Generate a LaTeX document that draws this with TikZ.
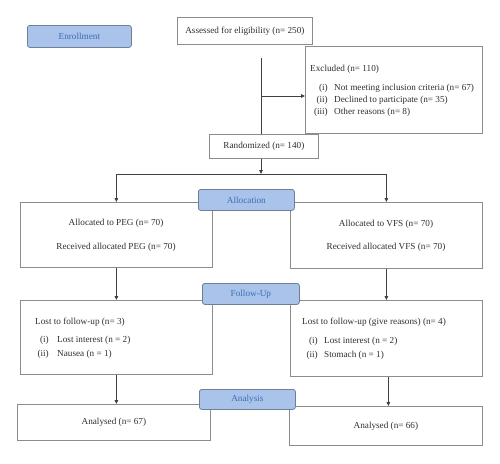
\documentclass[tikz,border=0pt]{standalone}
\usepackage{fontspec}
\setmainfont{Liberation Serif}
\usetikzlibrary{arrows.meta}
\definecolor{lblfill}{HTML}{A9C3EA}
\definecolor{lblline}{HTML}{6F7F95}
\definecolor{lbltext}{HTML}{3D6DB5}
\definecolor{boxline}{HTML}{8C8C8C}
\definecolor{conline}{HTML}{404040}
\definecolor{txt}{HTML}{303030}
\newcommand{\fs}{\fontsize{9.2}{11}\selectfont}
\begin{document}
\begin{tikzpicture}[x=1pt,y=-1pt,
  box/.style={draw=boxline,line width=0.8pt,fill=white,inner sep=0pt,anchor=north west,font=\fs,text=txt},
  lbl/.style={draw=lblline,fill=lblfill,rounded corners=2.5pt,line width=0.8pt,anchor=north west,inner sep=0pt,text=lbltext,font=\fs},
  tl/.style={inner sep=0pt,anchor=base west,font=\fs,text=txt},
  tr/.style={inner sep=0pt,anchor=base east,font=\fs,text=txt},
  tc/.style={inner sep=0pt,anchor=base,font=\fs,text=txt},
  con/.style={draw=conline,line width=0.8pt},
  arr/.style={draw=conline,line width=0.8pt,-{Triangle[length=4pt,width=3.6pt]}}]
\useasboundingbox (0,0) rectangle (500,463);
\fill[white] (0,0) rectangle (500,463);

% boxes
\node[box,minimum width=135pt,minimum height=27pt] (assess) at (177,17) {Assessed for eligibility (n= 250)};
\node[box,minimum width=177pt,minimum height=87pt] (excl) at (305,46) {};
\node[box,minimum width=109pt,minimum height=24pt] (rand) at (209,134) {Randomized (n= 140)};
\node[box,minimum width=192pt,minimum height=65pt] (allocL) at (20,202) {};
\node[box,minimum width=192pt,minimum height=66pt] (allocR) at (290,202) {};
\node[box,minimum width=192pt,minimum height=74pt] (fuL) at (20,300) {};
\node[box,minimum width=192pt,minimum height=76pt] (fuR) at (290,300) {};
\node[box,minimum width=193pt,minimum height=36pt] (anL) at (17,404) {Analysed (n= 67)};
\node[box,minimum width=193pt,minimum height=39pt] (anR) at (289,406) {Analysed (n= 66)};

% texts inside boxes
\node[tl] (exT) at (310,71) {Excluded (n= 110)};
\node[tr] (ex1l) at (328,90) {(i)};
\node[tl] (ex1) at (334,90) {Not meeting inclusion criteria (n= 67)};
\node[tr] (ex2l) at (328,102) {(ii)};
\node[tl] (ex2) at (334,102) {Declined to participate (n= 35)};
\node[tr] (ex3l) at (328,114) {(iii)};
\node[tl] (ex3) at (334,114) {Other reasons (n= 8)};

\node[tc] (aL1) at (116,225) {Allocated to PEG (n= 70)};
\node[tc] (aL2) at (116,249) {Received allocated PEG (n= 70)};
\node[tc] (aR1) at (386,226) {Allocated to VFS (n= 70)};
\node[tc] (aR2) at (386,249) {Received allocated VFS (n= 70)};

\node[tl] (fL0) at (35,324) {Lost to follow-up (n= 3)};
\node[tr] (fL1l) at (49,342) {(i)};
\node[tl] (fL1) at (57,342) {Lost interest (n = 2)};
\node[tr] (fL2l) at (49,356) {(ii)};
\node[tl] (fL2) at (57,356) {Nausea (n = 1)};

\node[tl] (fR0) at (302,324) {Lost to follow-up (give reasons) (n= 4)};
\node[tr] (fR1l) at (318,343) {(i)};
\node[tl] (fR1) at (324,343) {Lost interest (n = 2)};
\node[tr] (fR2l) at (318,357) {(ii)};
\node[tl] (fR2) at (324,357) {Stomach (n = 1)};

% connectors
\coordinate (top) at (261,58);
\coordinate (exj) at (261,96);
\coordinate (split) at (261,174);
\draw[con] (top) -- (top |- rand.north);
\draw[arr] (exj) -- (exj -| excl.west);
\draw[arr] (split |- rand.south) -- (split);
\draw[arr] (split) -| (allocL.north);
\draw[arr] (split) -| (allocR.north);
\draw[arr] (allocL.south) -- (fuL.north);
\draw[arr] (allocR.south) -- (fuR.north);
\draw[arr] (fuL.south) -- (fuL.south |- anL.north);
\draw[arr] ([xshift=2pt]fuR.south) -- ([xshift=2pt]fuR.south |- anR.north);

% phase labels
\node[lbl,minimum width=104pt,minimum height=22pt] (enr) at (27,25) {Enrollment};
\node[lbl,minimum width=96pt,minimum height=21pt] (alloc) at (198,189) {Allocation};
\node[lbl,minimum width=97pt,minimum height=21pt] (fu) at (202,283) {Follow-Up};
\node[lbl,minimum width=96pt,minimum height=20pt] (an) at (199,389) {Analysis};
\end{tikzpicture}
\end{document}
